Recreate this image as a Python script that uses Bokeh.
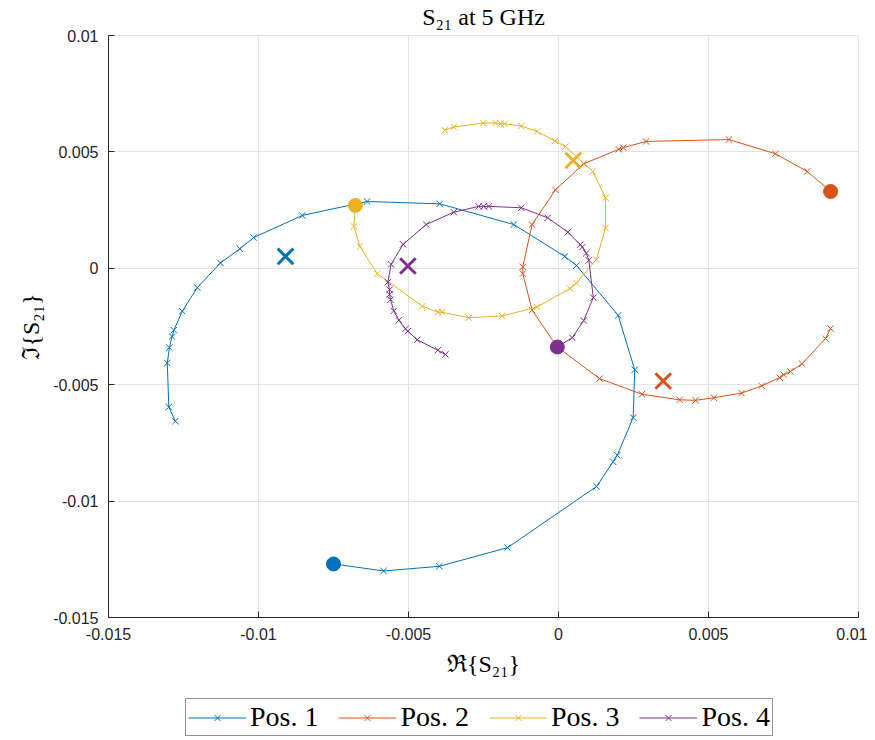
from bokeh.plotting import figure
from bokeh.layouts import column
from bokeh.models import Range1d, FixedTicker, Legend, LegendItem
from bokeh.embed import file_html
from bokeh.resources import INLINE

names = ["Pos. 1", "Pos. 2", "Pos. 3", "Pos. 4"]
colors = ["#0072BD", "#D95319", "#EDB120", "#7E2F8E"]

pos1_re = [-0.0075, -0.00583, -0.00397, -0.0017, 0.00127, 0.00182, 0.00196, 0.00249, 0.00254,
           0.00199, 0.0006, 0.00021, -0.00149, -0.00396, -0.00638, -0.00854, -0.01016, -0.01062,
           -0.01127, -0.01204, -0.01254, -0.01282, -0.01288, -0.01297, -0.01304, -0.01299, -0.01277]
pos1_im = [-0.0127, -0.0130, -0.0128, -0.0120, -0.00937, -0.00831, -0.00803, -0.00641, -0.00436,
           -0.00202, 0.00012, 0.00051, 0.00188, 0.00277, 0.00287, 0.00227, 0.00132, 0.00084,
           0.00023, -0.00083, -0.00184, -0.00266, -0.00293, -0.00341, -0.00407, -0.00596, -0.00657]

pos2_re = [0.00907, 0.00829, 0.00723, 0.00568, 0.00292, 0.00216, 0.00201, 0.00084, -0.0001,
           -0.00088, -0.00119, -0.00119, -0.00088, -0.00004, 0.00137, 0.00278, 0.00404, 0.00457,
           0.00518, 0.0061, 0.00677, 0.00737, 0.00751, 0.00773, 0.00812, 0.0089, 0.00907]
pos2_im = [0.0033, 0.00416, 0.00492, 0.00553, 0.00545, 0.00518, 0.00511, 0.00449, 0.00337,
           0.00188, 0.00006, -0.00023, -0.0018, -0.00338, -0.00474, -0.00541, -0.00565, -0.00567,
           -0.00556, -0.00536, -0.00505, -0.0047, -0.00457, -0.00443, -0.0041, -0.00302, -0.00259]

pos3_re = [-0.00677, -0.00682, -0.00662, -0.00604, -0.00454, -0.00402, -0.00388, -0.00299, -0.00188,
           -0.00071, 0.00038, 0.0006, 0.00126, 0.00157, 0.00157, 0.00114, 0.00023, -0.00012,
           -0.00071, -0.00124, -0.0018, -0.00193, -0.0021, -0.00251, -0.00349, -0.00379]
pos3_im = [0.0027, 0.0018, 0.00094, -0.00023, -0.00163, -0.00188, -0.00189, -0.00212, -0.00205,
           -0.00166, -0.00087, -0.00063, 0.00037, 0.00173, 0.00303, 0.00416, 0.00523, 0.00547,
           0.00588, 0.00611, 0.00621, 0.00621, 0.00624, 0.00624, 0.00607, 0.00593]

pos4_re = [-0.00004, 0.00046, 0.00084, 0.00116, 0.00101, 0.00093, 0.00079, 0.00073, 0.00031,
           -0.00036, -0.00124, -0.00232, -0.00249, -0.00266, -0.00349, -0.00441, -0.00518, -0.00558,
           -0.00569, -0.00563, -0.00563, -0.0056, -0.00549, -0.00532, -0.0051, -0.00502, -0.00471,
           -0.00402, -0.00377]
pos4_im = [-0.00338, -0.00298, -0.00224, -0.00126, 0.00034, 0.00065, 0.00091, 0.00101, 0.00155,
           0.00217, 0.0026, 0.00266, 0.00266, 0.00266, 0.00241, 0.00188, 0.00103, 0.00017,
           -0.0006, -0.00092, -0.00112, -0.00135, -0.00183, -0.00223, -0.0026, -0.0027, -0.00307,
           -0.00352, -0.0037]

center_re = [-0.0091, 0.00349, 0.00049, -0.00502]
center_im = [0.00051, -0.00484, 0.00463, 0.0001]

tick_values = [-0.015, -0.01, -0.005, 0, 0.005, 0.01]
tick_labels = ["-0.015", "-0.01", "-0.005", "0", "0.005", "0.01"]

series_re = [pos1_re, pos2_re, pos3_re, pos4_re]
series_im = [pos1_im, pos2_im, pos3_im, pos4_im]

AX = "#262626"
GRID = "#e3e3e3"

p = figure(width=867, height=690, output_backend="svg", toolbar_location=None,
           x_range=Range1d(-0.015, 0.01), y_range=Range1d(-0.015, 0.01),
           min_border_left=108, min_border_right=9, min_border_top=35, min_border_bottom=73,
           background_fill_color="white", border_fill_color="white")

p.title.text = "S₂₁ at 5 GHz"
p.title.align = "center"
p.title.vertical_align = "top"
p.title.text_font = "Liberation Serif"
p.title.text_font_size = "24px"
p.title.text_font_style = "normal"
p.title.text_color = "black"
p.title.standoff = 7

p.outline_line_color = GRID
p.outline_line_width = 1

for ax in (p.xaxis[0], p.yaxis[0]):
    ax.ticker = FixedTicker(ticks=tick_values)
    ax.major_label_overrides = {v: l for v, l in zip(tick_values, tick_labels)}
    ax.axis_line_color = AX
    ax.axis_line_width = 1
    ax.major_tick_line_color = AX
    ax.major_tick_in = 6
    ax.major_tick_out = 0
    ax.minor_tick_line_color = None
    ax.major_label_text_font = "Liberation Sans"
    ax.major_label_text_font_size = "16px"
    ax.major_label_text_color = AX
    ax.axis_label_text_font = "Liberation Serif"
    ax.axis_label_text_font_size = "24px"
    ax.axis_label_text_font_style = "normal"
    ax.axis_label_text_color = "black"

p.xaxis.axis_label = "ℜ{S₂₁}"
p.yaxis.axis_label = "ℑ{S₂₁}"
p.xaxis.major_label_standoff = 10
p.yaxis.major_label_standoff = 10
p.xaxis.axis_label_standoff = 8
p.yaxis.axis_label_standoff = 6

p.xgrid.grid_line_color = GRID
p.ygrid.grid_line_color = GRID
p.xgrid.ticker = FixedTicker(ticks=tick_values)
p.ygrid.ticker = FixedTicker(ticks=tick_values)

for c, xs, ys in zip(colors, series_re, series_im):
    p.line(xs, ys, line_color=c, line_width=1)
    p.scatter(xs, ys, marker="x", size=9, line_color=c, line_width=1)

for c, xs, ys in zip(colors, series_re, series_im):
    p.scatter([xs[0]], [ys[0]], marker="circle", size=14, fill_color=c, line_color=c)

for c, x, y in zip(colors, center_re, center_im):
    p.scatter([x], [y], marker="x", size=22, line_color=c, line_width=3)

# Legend strip below the axes: an axis-less figure whose ranges exclude the data,
# so that only the legend is visible.
lp = figure(width=867, height=48, output_backend="svg", toolbar_location=None,
            x_range=Range1d(10, 11), y_range=Range1d(10, 11),
            x_axis_location=None, y_axis_location=None,
            min_border_left=0, min_border_right=0, min_border_top=0, min_border_bottom=0,
            background_fill_color="white", border_fill_color="white")
lp.outline_line_color = None
lp.xgrid.visible = False
lp.ygrid.visible = False

items = []
for name, c, xs, ys in zip(names, colors, series_re, series_im):
    l = lp.line(xs, ys, line_color=c, line_width=1)
    s = lp.scatter(xs, ys, marker="x", size=9, line_color=c, line_width=1)
    items.append(LegendItem(label=name, renderers=[l, s]))

legend = Legend(items=items, orientation="horizontal", location=(77, 2),
                border_line_color=AX, border_line_width=1, background_fill_color="white",
                background_fill_alpha=1.0,
                label_text_font="Liberation Serif", label_text_font_size="28px",
                label_text_color="black",
                glyph_width=58, glyph_height=21, label_standoff=4, spacing=20,
                padding=2, margin=0)
lp.add_layout(legend, "center")

layout = column(p, lp, spacing=0)
open("out.html", "w").write(file_html(layout, INLINE))
